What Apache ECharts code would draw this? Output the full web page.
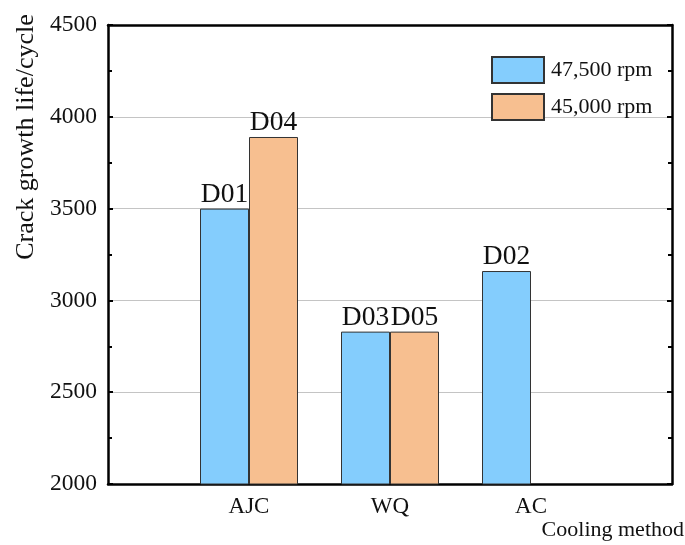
<!DOCTYPE html>
<html>
<head>
<meta charset="utf-8">
<script src="https://cdn.jsdelivr.net/npm/echarts@6/dist/echarts.min.js"></script>
<style>
  html, body { margin: 0; padding: 0; background: #fff; }
  #chart { width: 685px; height: 545px; }
</style>
</head>
<body>
<div id="chart"></div>
<script>
// Cooling methods (blank slots pad the axis on both sides)
const categories = ['', 'AJC', 'WQ', 'AC', ''];
const seriesNames = ['47,500 rpm', '45,000 rpm'];
// Crack growth life (cycles) per cooling method
const lifeHighSpeed = [null, 3500, 2830, 3160, null];
const lifeLowSpeed = [null, 3890, 2830, null, null];
// Specimen IDs shown above each bar
const idsHighSpeed = ['', 'D01', 'D03', 'D02', ''];
const idsLowSpeed = ['', 'D04', 'D05', '', ''];
const yTicks = { min: 2000, max: 4500, interval: 500 };

const FONT = 'Liberation Serif';
const colors = ['#84CDFD', '#F7BF90'];

function toData(values, ids) {
  return values.map((v, i) => v == null ? '-' : { value: v, id: ids[i] });
}

const labelCfg = {
  show: true,
  position: 'top',
  distance: 0,
  fontFamily: FONT,
  fontSize: 27.5,
  color: '#111',
  formatter: p => p.data && p.data.id ? p.data.id : ''
};

const chart = echarts.init(document.getElementById('chart'), null, { renderer: 'canvas' });
chart.setOption({
  backgroundColor: '#fff',
  animation: false,
  grid: { left: 108, right: 13, top: 25, bottom: 61 },
  legend: {
    left: 486,
    top: 51,
    orient: 'vertical',
    icon: 'rect',
    itemWidth: 52,
    itemHeight: 26,
    itemGap: 9,
    data: seriesNames,
    textStyle: { fontFamily: FONT, fontSize: 22, color: '#111', padding: [0, 0, 0, 2] }
  },
  xAxis: [{
    type: 'category',
    data: categories,
    boundaryGap: false,
    axisLine: { show: true, lineStyle: { color: '#000', width: 2.5 } },
    axisTick: { show: false },
    axisLabel: { fontFamily: FONT, fontSize: 23, color: '#111', margin: 11, interval: 0 },
    splitLine: { show: false }
  }, {
    type: 'category',
    data: categories,
    position: 'top',
    boundaryGap: false,
    axisLine: { show: true, onZero: false, lineStyle: { color: '#000', width: 2.5 } },
    axisTick: { show: false },
    axisLabel: { show: false },
    splitLine: { show: false }
  }],
  yAxis: [{
    type: 'value',
    min: yTicks.min,
    max: yTicks.max,
    interval: yTicks.interval,
    axisLine: { show: true, lineStyle: { color: '#000', width: 2.5 } },
    axisTick: { show: true, inside: true, length: 5, lineStyle: { color: '#000', width: 2 } },
    minorTick: { show: true, splitNumber: 2, length: 4, lineStyle: { color: '#000', width: 2 } },
    axisLabel: { fontFamily: FONT, fontSize: 23.5, color: '#111', margin: 11, formatter: v => String(v) },
    splitLine: { show: true, lineStyle: { color: '#c4c4c4', width: 1 } }
  }, {
    type: 'value',
    position: 'right',
    min: yTicks.min,
    max: yTicks.max,
    interval: yTicks.interval,
    axisLine: { show: true, onZero: false, lineStyle: { color: '#000', width: 2.5 } },
    axisTick: { show: true, inside: true, length: 5, lineStyle: { color: '#000', width: 2 } },
    minorTick: { show: true, splitNumber: 2, length: 4, lineStyle: { color: '#000', width: 2 } },
    axisLabel: { show: false },
    splitLine: { show: false }
  }],
  series: [{
    name: seriesNames[0],
    type: 'bar',
    barWidth: 49,
    barGap: '0%',
    data: toData(lifeHighSpeed, idsHighSpeed),
    itemStyle: { color: colors[0], borderColor: '#333', borderWidth: 1 },
    label: labelCfg
  }, {
    name: seriesNames[1],
    type: 'bar',
    barWidth: 49,
    barGap: '0%',
    data: toData(lifeLowSpeed, idsLowSpeed),
    itemStyle: { color: colors[1], borderColor: '#333', borderWidth: 1 },
    label: labelCfg
  }],
  graphic: [{
    type: 'text',
    x: 26,
    y: 137,
    rotation: Math.PI / 2,
    style: {
      text: 'Crack growth life/cycle',
      fontFamily: FONT,
      fontSize: 26,
      fill: '#111',
      align: 'center',
      verticalAlign: 'middle'
    }
  }, {
    type: 'text',
    x: 684,
    y: 530,
    style: {
      text: 'Cooling method',
      fontFamily: FONT,
      fontSize: 22,
      fill: '#111',
      align: 'right',
      verticalAlign: 'middle'
    }
  }]
});
</script>
</body>
</html>
